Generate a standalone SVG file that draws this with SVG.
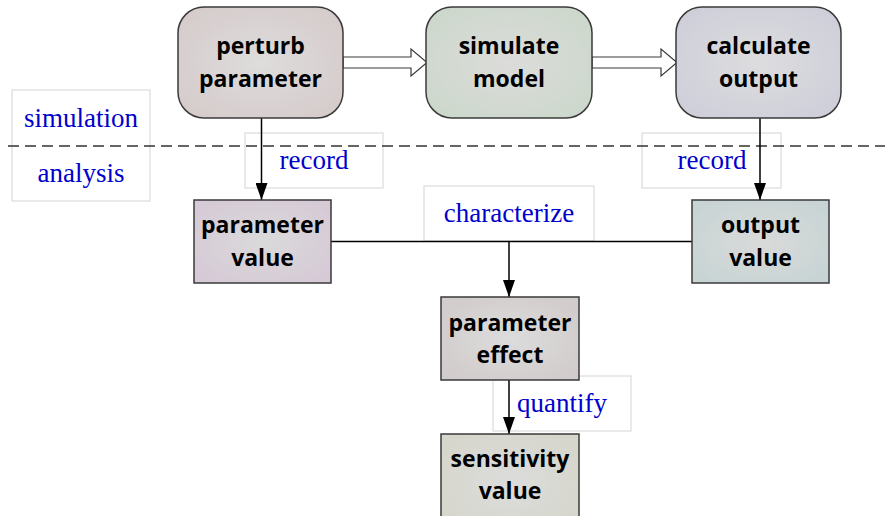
<svg xmlns="http://www.w3.org/2000/svg" width="885" height="516" viewBox="0 0 885 516">
  <defs>
    <radialGradient id="gPerturb" cx="50%" cy="50%" r="60%"><stop offset="0" stop-color="#dedcdc"/><stop offset="1" stop-color="#d6cccc"/></radialGradient>
    <radialGradient id="gSimulate" cx="50%" cy="50%" r="60%"><stop offset="0" stop-color="#dcdcda"/><stop offset="1" stop-color="#cdd8cc"/></radialGradient>
    <radialGradient id="gCalc" cx="50%" cy="50%" r="60%"><stop offset="0" stop-color="#dddddf"/><stop offset="1" stop-color="#cecfd9"/></radialGradient>
    <radialGradient id="gParam" cx="50%" cy="50%" r="60%"><stop offset="0" stop-color="#dadada"/><stop offset="1" stop-color="#d6cad6"/></radialGradient>
    <radialGradient id="gOutput" cx="50%" cy="50%" r="60%"><stop offset="0" stop-color="#dadada"/><stop offset="1" stop-color="#c8d4d4"/></radialGradient>
    <radialGradient id="gEffect" cx="50%" cy="50%" r="60%"><stop offset="0" stop-color="#dcdcdc"/><stop offset="1" stop-color="#d2cccc"/></radialGradient>
    <radialGradient id="gSens" cx="50%" cy="50%" r="60%"><stop offset="0" stop-color="#dcdcdc"/><stop offset="1" stop-color="#d6d6cc"/></radialGradient>
    <marker id="arrow" markerWidth="17" markerHeight="12" refX="17" refY="6" orient="auto" markerUnits="userSpaceOnUse" viewBox="0 0 17 12">
      <path d="M0,0 L17,6 L0,12 Z" fill="#000"/>
    </marker>
  </defs>
  <style>
    .node { stroke: #3a3a3a; stroke-width: 1.5; }
    .nt { font-family: "Open Sans", "Liberation Sans", sans-serif; font-weight: bold; font-size: 23px; fill: #000; text-anchor: middle; }
    .lbox { fill: #fff; stroke: #d4d4d4; stroke-width: 1; }
    .lt { font-family: "Liberation Serif", "Times New Roman", serif; font-size: 27px; fill: #0000cc; text-anchor: middle; }
    .conn { stroke: #000; stroke-width: 1.5; fill: none; }
    .hollow { fill: #fff; stroke: #3a3a3a; stroke-width: 1.2; }
  </style>

  <!-- phase labels -->
  <g id="phase-labels">
    <rect class="lbox" x="12" y="90" width="138" height="111"/>
    <text class="lt" x="81" y="127">simulation</text>
    <text class="lt" x="81" y="182">analysis</text>
  </g>

  <!-- edge labels -->
  <g id="edge-labels">
    <rect class="lbox" x="245" y="133" width="138" height="55"/>
    <text class="lt" x="314" y="169">record</text>
    <rect class="lbox" x="642" y="133" width="139" height="55"/>
    <text class="lt" x="712" y="169">record</text>
    <rect class="lbox" x="424" y="186" width="170" height="55"/>
    <text class="lt" x="509" y="222">characterize</text>
    <rect class="lbox" x="493" y="376" width="138" height="55"/>
    <text class="lt" x="562" y="412">quantify</text>
  </g>

  <!-- phase divider -->
  <line x1="8" y1="146" x2="885" y2="146" stroke="#333" stroke-width="1.3" stroke-dasharray="11,6"/>

  <!-- connectors -->
  <g id="connectors">
    <path class="hollow" d="M343,57 L411,57 L411,49 L427,62.5 L411,76 L411,68 L343,68 Z"/>
    <path class="hollow" d="M592,57 L661,57 L661,49 L677,62.5 L661,76 L661,68 L592,68 Z"/>
    <line class="conn" x1="261.5" y1="118" x2="261.5" y2="200" marker-end="url(#arrow)"/>
    <line class="conn" x1="760" y1="118" x2="760" y2="200" marker-end="url(#arrow)"/>
    <line class="conn" x1="331" y1="241.5" x2="692" y2="241.5"/>
    <line class="conn" x1="509" y1="241.5" x2="509" y2="297" marker-end="url(#arrow)"/>
    <line class="conn" x1="509" y1="380" x2="509" y2="434" marker-end="url(#arrow)"/>
  </g>

  <!-- process steps -->
  <g id="perturb-parameter">
    <rect class="node" x="178" y="7" width="165" height="111" rx="26" fill="url(#gPerturb)"/>
    <text class="nt" x="260.5" y="54">perturb</text>
    <text class="nt" x="260.5" y="87">parameter</text>
  </g>
  <g id="simulate-model">
    <rect class="node" x="426" y="7" width="166" height="111" rx="26" fill="url(#gSimulate)"/>
    <text class="nt" x="509" y="54">simulate</text>
    <text class="nt" x="509" y="87">model</text>
  </g>
  <g id="calculate-output">
    <rect class="node" x="676" y="7" width="165" height="111" rx="26" fill="url(#gCalc)"/>
    <text class="nt" x="758.5" y="54">calculate</text>
    <text class="nt" x="758.5" y="87">output</text>
  </g>

  <!-- data items -->
  <g id="parameter-value">
    <rect class="node" x="194" y="200" width="137" height="83" fill="url(#gParam)"/>
    <text class="nt" x="262.5" y="233">parameter</text>
    <text class="nt" x="262.5" y="266">value</text>
  </g>
  <g id="output-value">
    <rect class="node" x="692" y="200" width="137" height="83" fill="url(#gOutput)"/>
    <text class="nt" x="760.5" y="233">output</text>
    <text class="nt" x="760.5" y="266">value</text>
  </g>
  <g id="parameter-effect">
    <rect class="node" x="441" y="297" width="138" height="83" fill="url(#gEffect)"/>
    <text class="nt" x="510" y="331">parameter</text>
    <text class="nt" x="510" y="363">effect</text>
  </g>
  <g id="sensitivity-value">
    <rect class="node" x="441" y="434" width="138" height="100" fill="url(#gSens)"/>
    <text class="nt" x="510" y="467">sensitivity</text>
    <text class="nt" x="510" y="499">value</text>
  </g>
</svg>
